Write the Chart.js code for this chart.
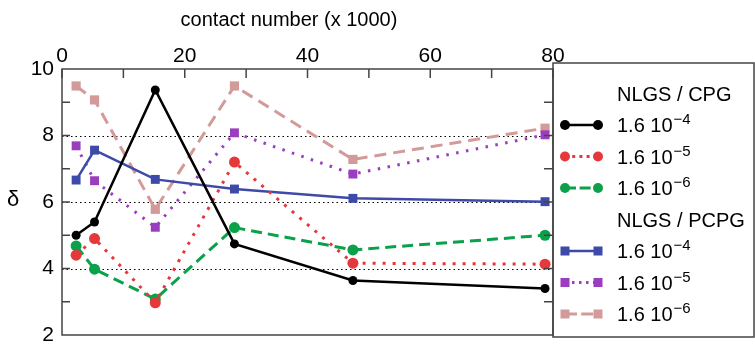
<!DOCTYPE html>
<html>
<head>
<meta charset="utf-8">
<script src="https://cdn.jsdelivr.net/npm/chart.js@4"></script>
<style>
  html, body { margin: 0; padding: 0; background: #fff; }
  #wrap { width: 755px; height: 349px; }
</style>
</head>
<body>
<div id="wrap"><canvas id="chart1"></canvas></div>
<script>
// contact number (x 1000)
const contactK = [2.3, 5.3, 15.2, 28.1, 47.4, 78.7];

// NLGS / CPG
const cpg4 = [5.0, 5.4, 9.37, 4.74, 3.64, 3.4];
const cpg5 = [4.4, 4.9, 2.97, 7.2, 4.16, 4.13];
const cpg6 = [4.68, 3.98, 3.08, 5.23, 4.56, 5.0];
// NLGS / PCPG
const pcpg4 = [6.66, 7.56, 6.68, 6.39, 6.11, 6.01];
const pcpg5 = [7.69, 6.64, 5.24, 8.08, 6.84, 8.02];
const pcpg6 = [9.49, 9.07, 5.78, 9.49, 7.28, 8.22];

const xTicks = [0, 20, 40, 60, 80];
const yTicks = [2, 4, 6, 8, 10];
const legendHeaders = ['NLGS / CPG', 'NLGS / PCPG'];
const legendExp = ['−4', '−5', '−6'];

const FONT = '"Liberation Sans", Arial, Helvetica, sans-serif';

function pts(ys) {
    return ys.map((y, i) => ({ x: contactK[i], y: y }));
}

function series(label, ys, color, dash, width, shape, radius) {
    return {
        label: label,
        data: pts(ys),
        borderColor: color,
        backgroundColor: color,
        borderWidth: width,
        borderDash: dash,
        borderCapStyle: 'butt',
        pointStyle: shape,
        pointRadius: radius,
        pointHoverRadius: radius,
        pointBorderWidth: 0,
        tension: 0
    };
}

const datasets = [
    series('CPG 1.6e-4', cpg4, '#000000', [], 2.5, 'circle', 4.5),
    series('CPG 1.6e-5', cpg5, '#e5383b', [3, 7], 3, 'circle', 5.5),
    series('CPG 1.6e-6', cpg6, '#0ba14b', [11, 6], 3, 'circle', 5.5),
    series('PCPG 1.6e-4', pcpg4, '#3d4aa8', [], 2.5, 'rect', 6.3),
    series('PCPG 1.6e-5', pcpg5, '#9b3dbf', [2.5, 7.5], 3, 'rect', 6.3),
    series('PCPG 1.6e-6', pcpg6, '#d39a9a', [12, 7], 3, 'rect', 6.5)
];

// frame, inward ticks, tick labels, dotted grid, custom legend
const decor = {
    id: 'decor',
    beforeDatasetsDraw(chart) {
        const ctx = chart.ctx;
        const a = chart.chartArea;
        const ys = chart.scales.y;
        ctx.save();
        ctx.strokeStyle = '#000';
        ctx.lineWidth = 1;
        ctx.setLineDash([1.5, 3]);
        [4, 6, 8].forEach(v => {
            const py = Math.round(ys.getPixelForValue(v)) + 0.5;
            ctx.beginPath();
            ctx.moveTo(a.left, py);
            ctx.lineTo(a.right, py);
            ctx.stroke();
        });
        ctx.restore();
    },
    afterDraw(chart) {
        const ctx = chart.ctx;
        const a = chart.chartArea;
        const xs = chart.scales.x;
        const ys = chart.scales.y;
        ctx.save();
        ctx.strokeStyle = '#444';
        ctx.lineWidth = 1.5;
        ctx.strokeRect(a.left, a.top, a.right - a.left, a.bottom - a.top);

        // minor + major ticks, pointing inward
        ctx.beginPath();
        for (let v = 0; v <= 80; v += 10) {
            const px = xs.getPixelForValue(v);
            ctx.moveTo(px, a.top);
            ctx.lineTo(px, a.top + 9);
        }
        for (let v = 3; v <= 9; v++) {
            const py = ys.getPixelForValue(v);
            ctx.moveTo(a.left, py);
            ctx.lineTo(a.left + 8, py);
            ctx.moveTo(a.right, py);
            ctx.lineTo(a.right - 9, py);
        }
        ctx.stroke();

        // tick labels
        ctx.fillStyle = '#000';
        ctx.font = '21px ' + FONT;
        ctx.textAlign = 'center';
        ctx.textBaseline = 'alphabetic';
        xTicks.forEach(v => ctx.fillText(String(v), xs.getPixelForValue(v), 62));
        ctx.textAlign = 'right';
        ctx.textBaseline = 'middle';
        yTicks.forEach(v => ctx.fillText(String(v), 54, ys.getPixelForValue(v)));

        // axis titles
        ctx.font = '20px ' + FONT;
        ctx.textAlign = 'center';
        ctx.fillText('contact number (x 1000)', 289, 20);
        ctx.font = '22px ' + FONT;
        ctx.fillText('δ', 13, 200);

        // legend box
        const bx = a.right, by = 63, bw = 754 - a.right, bh = 337 - 63;
        ctx.strokeStyle = '#444';
        ctx.lineWidth = 1.5;
        ctx.strokeRect(bx, by, bw, bh);

        const rowY = i => 93.5 + 31.5 * i;
        const tx = 617;
        ctx.textAlign = 'left';
        ctx.textBaseline = 'alphabetic';
        let row = 0;
        for (let g = 0; g < 2; g++) {
            ctx.font = '20px ' + FONT;
            ctx.fillStyle = '#000';
            ctx.fillText(legendHeaders[g], tx, rowY(row) + 7);
            row++;
            for (let k = 0; k < 3; k++) {
                const ds = chart.data.datasets[g * 3 + k];
                const y = rowY(row);
                ctx.save();
                ctx.strokeStyle = ds.borderColor;
                ctx.lineWidth = ds.borderWidth;
                ctx.setLineDash(ds.borderDash.length ? [ds.borderDash[0], ds.borderDash[1] * 0.6] : []);
                ctx.beginPath();
                ctx.moveTo(565, y);
                ctx.lineTo(598, y);
                ctx.stroke();
                ctx.restore();
                ctx.fillStyle = ds.borderColor;
                [565, 598].forEach(px => {
                    if (ds.pointStyle === 'circle') {
                        ctx.beginPath();
                        ctx.arc(px, y, 5, 0, Math.PI * 2);
                        ctx.fill();
                    } else {
                        ctx.fillRect(px - 4.5, y - 4.5, 9, 9);
                    }
                });
                ctx.fillStyle = '#000';
                ctx.font = '20px ' + FONT;
                const base = '1.6 10';
                ctx.fillText(base, tx, y + 7);
                const w = ctx.measureText(base).width;
                ctx.font = '15px ' + FONT;
                ctx.fillText(legendExp[k], tx + w + 1, y - 1);
                row++;
            }
        }
        ctx.restore();
    }
};

const ctx1 = document.getElementById('chart1').getContext('2d');

new Chart(ctx1, {
    type: 'line',
    data: { datasets: datasets },
    options: {
        responsive: true,
        maintainAspectRatio: false,
        animation: false,
        events: [],
        layout: {
            padding: { left: 0, top: 0, right: 202, bottom: 14 }
        },
        scales: {
            x: {
                type: 'linear',
                position: 'top',
                min: 0,
                max: 80,
                afterFit: s => { s.height = 69; },
                afterBuildTicks: s => { s.ticks = xTicks.map(v => ({ value: v })); },
                grid: { display: false, drawTicks: false },
                border: { display: false },
                ticks: { display: false }
            },
            y: {
                min: 2,
                max: 10,
                afterFit: s => { s.width = 62; },
                afterBuildTicks: s => { s.ticks = yTicks.map(v => ({ value: v })); },
                grid: { display: false, drawTicks: false },
                border: { display: false },
                ticks: { display: false }
            }
        },
        plugins: {
            legend: { display: false },
            tooltip: { enabled: false }
        }
    },
    plugins: [decor]
});
</script>
</body>
</html>
